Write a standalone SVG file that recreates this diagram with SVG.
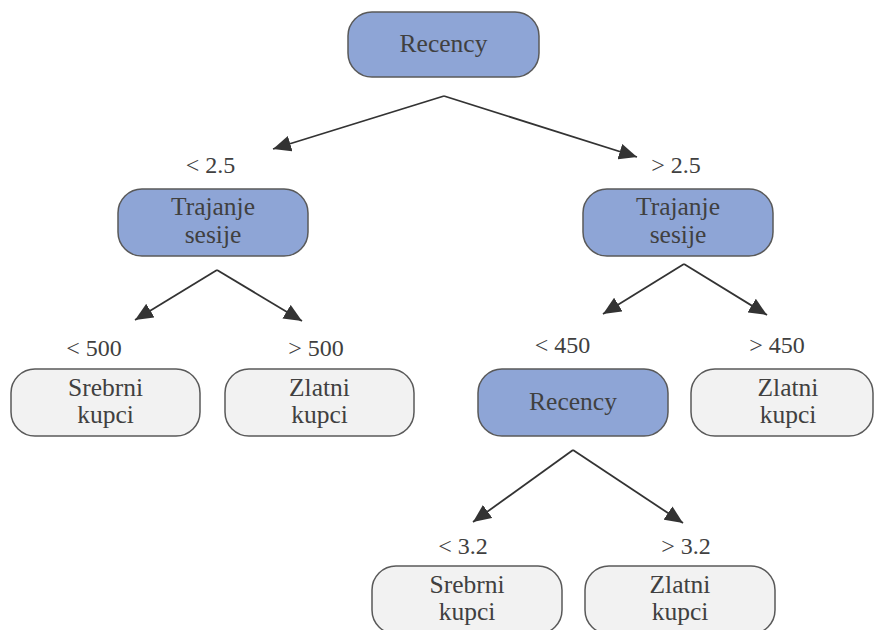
<svg xmlns="http://www.w3.org/2000/svg" width="874" height="630" viewBox="0 0 874 630">
  <defs>
    <marker id="arrow" markerUnits="userSpaceOnUse" markerWidth="20" markerHeight="16" refX="18" refY="8" orient="auto">
      <path d="M0,0 L18,8 L0,16 Z" fill="#333333"/>
    </marker>
    <style>
      .box { stroke: #595959; stroke-width: 1.5; }
      .split { fill: #8EA5D6; }
      .leaf { fill: #F2F2F2; }
      text { font-family: "Liberation Serif", "DejaVu Serif", serif; font-size: 25.5px; fill: #404040; text-anchor: middle; }
      text.cond { font-size: 24px; }
      .edge { stroke: #333333; stroke-width: 1.8; fill: none; marker-end: url(#arrow); }
    </style>
  </defs>
  <rect width="874" height="630" fill="#FFFFFF"/>

  <g id="connectors">
    <path class="edge" d="M444,96 L273,149"/>
    <path class="edge" d="M444,96 L637,157"/>
    <path class="edge" d="M217,270 L135,320"/>
    <path class="edge" d="M217,270 L302,321"/>
    <path class="edge" d="M684,264 L603,314"/>
    <path class="edge" d="M684,264 L767,315"/>
    <path class="edge" d="M573,450 L473,522"/>
    <path class="edge" d="M573,450 L683,523"/>
  </g>

  <g id="edge-labels">
    <text class="cond" x="210.5" y="173">&lt; 2.5</text>
    <text class="cond" x="676" y="173">&gt; 2.5</text>
    <text class="cond" x="94" y="356">&lt; 500</text>
    <text class="cond" x="316" y="356">&gt; 500</text>
    <text class="cond" x="562.5" y="353">&lt; 450</text>
    <text class="cond" x="777" y="353">&gt; 450</text>
    <text class="cond" x="463" y="554">&lt; 3.2</text>
    <text class="cond" x="686" y="554">&gt; 3.2</text>
  </g>

  <g id="root-recency">
    <rect class="box split" x="348" y="12" width="191" height="65" rx="24"/>
    <text x="443.5" y="52">Recency</text>
  </g>

  <g id="duration-left">
    <rect class="box split" x="118" y="189" width="190" height="67" rx="24"/>
    <text x="213" y="215">Trajanje</text>
    <text x="213" y="243">sesije</text>
  </g>

  <g id="duration-right">
    <rect class="box split" x="583" y="189" width="190" height="67" rx="24"/>
    <text x="678" y="215">Trajanje</text>
    <text x="678" y="243">sesije</text>
  </g>

  <g id="silver-left">
    <rect class="box leaf" x="11" y="369" width="189" height="67" rx="24"/>
    <text x="105.5" y="396">Srebrni</text>
    <text x="105.5" y="423">kupci</text>
  </g>

  <g id="gold-left">
    <rect class="box leaf" x="225" y="369" width="189" height="67" rx="24"/>
    <text x="319.5" y="396">Zlatni</text>
    <text x="319.5" y="423">kupci</text>
  </g>

  <g id="recency-inner">
    <rect class="box split" x="478" y="369" width="190" height="67" rx="24"/>
    <text x="573" y="410">Recency</text>
  </g>

  <g id="gold-right">
    <rect class="box leaf" x="691" y="369" width="182" height="67" rx="24"/>
    <text x="788" y="396">Zlatni</text>
    <text x="788" y="423">kupci</text>
  </g>

  <g id="silver-bottom">
    <rect class="box leaf" x="372" y="566" width="190" height="68" rx="24"/>
    <text x="467" y="593">Srebrni</text>
    <text x="467" y="620">kupci</text>
  </g>

  <g id="gold-bottom">
    <rect class="box leaf" x="585" y="566" width="190" height="68" rx="24"/>
    <text x="680" y="593">Zlatni</text>
    <text x="680" y="620">kupci</text>
  </g>
</svg>
